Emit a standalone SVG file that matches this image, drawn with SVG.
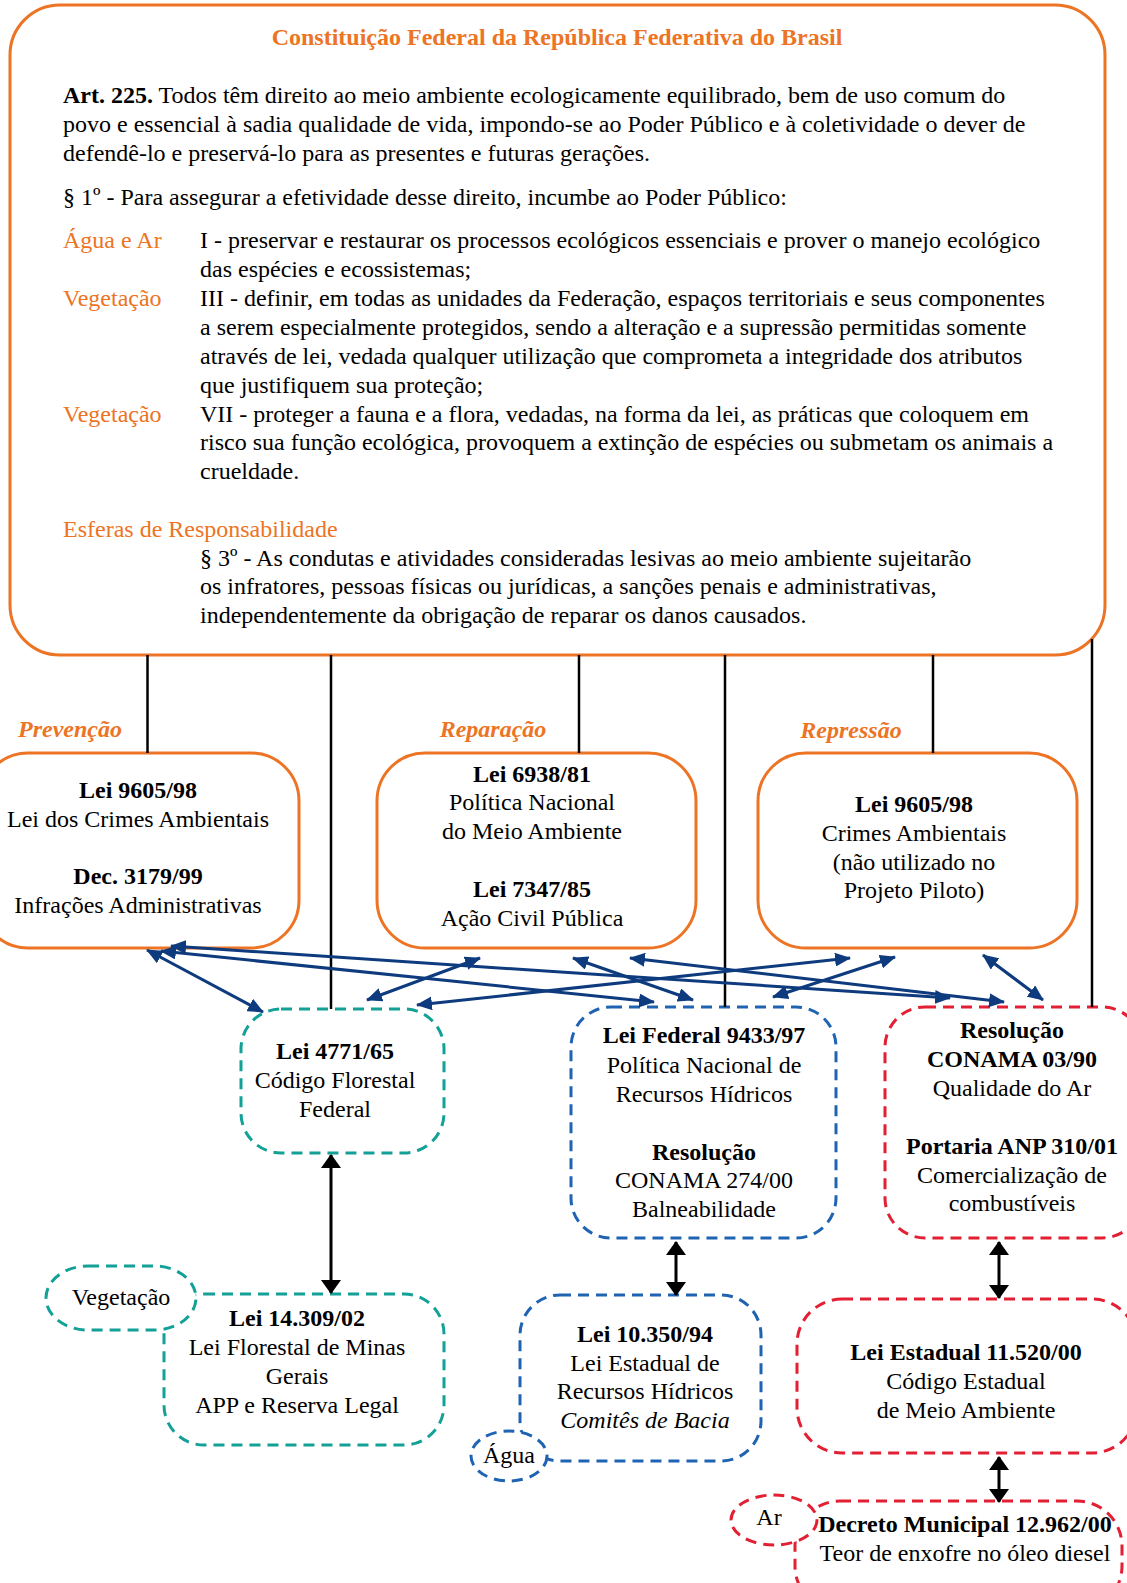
<svg xmlns="http://www.w3.org/2000/svg" width="1127" height="1583" viewBox="0 0 1127 1583">
<style>
text{font-family:"Liberation Serif","Times New Roman",serif;font-size:24px;fill:#000}
.b{font-weight:bold}
.i{font-style:italic}
.or{fill:#EC7424}
.c{text-anchor:middle}
.obox{fill:#fff;stroke:#EC7424;stroke-width:3}
.tbox{fill:#fff;stroke:#13A096;stroke-width:3;stroke-dasharray:11 7}
.bbox{fill:#fff;stroke:#1F63B3;stroke-width:3;stroke-dasharray:11 7}
.rbox{fill:#fff;stroke:#E21F33;stroke-width:3;stroke-dasharray:11 7}
.vl{stroke:#000;stroke-width:2.5;fill:none}
.ba{stroke:#0E3A7E;stroke-width:3;fill:none;marker-start:url(#ah);marker-end:url(#ah)}
.ka{stroke:#000;stroke-width:3;fill:none;marker-start:url(#kh);marker-end:url(#kh)}
</style>
<defs>
<marker id="ah" viewBox="0 0 16 14" refX="15" refY="7" markerWidth="16" markerHeight="14" markerUnits="userSpaceOnUse" orient="auto-start-reverse"><path d="M0,0 L16,7 L0,14 z" fill="#0E3A7E"/></marker>
<marker id="kh" viewBox="0 0 14 20" refX="13" refY="10" markerWidth="14" markerHeight="20" markerUnits="userSpaceOnUse" orient="auto-start-reverse"><path d="M0,0 L14,10 L0,20 z" fill="#000"/></marker>
</defs>
<rect width="1127" height="1583" fill="#fff"/>

<g id="constituicao">
<rect class="obox" x="10" y="5" width="1095" height="650" rx="50"/>
<text class="b or c" x="557" y="45">Constituição Federal da República Federativa do Brasil</text>
<text x="63" y="103"><tspan class="b">Art. 225.</tspan> Todos têm direito ao meio ambiente ecologicamente equilibrado, bem de uso comum do</text>
<text x="63" y="132">povo e essencial à sadia qualidade de vida, impondo-se ao Poder Público e à coletividade o dever de</text>
<text x="63" y="161">defendê-lo e preservá-lo para as presentes e futuras gerações.</text>
<text x="63" y="205">§ 1º - Para assegurar a efetividade desse direito, incumbe ao Poder Público:</text>
<text class="or" x="63" y="248">Água e Ar</text>
<text x="200" y="248">I - preservar e restaurar os processos ecológicos essenciais e prover o manejo ecológico</text>
<text x="200" y="277">das espécies e ecossistemas;</text>
<text class="or" x="63" y="306">Vegetação</text>
<text x="200" y="306">III - definir, em todas as unidades da Federação, espaços territoriais e seus componentes</text>
<text x="200" y="335">a serem especialmente protegidos, sendo a alteração e a supressão permitidas somente</text>
<text x="200" y="364">através de lei, vedada qualquer utilização que comprometa a integridade dos atributos</text>
<text x="200" y="393">que justifiquem sua proteção;</text>
<text class="or" x="63" y="422">Vegetação</text>
<text x="200" y="422">VII - proteger a fauna e a flora, vedadas, na forma da lei, as práticas que coloquem em</text>
<text x="200" y="450">risco sua função ecológica, provoquem a extinção de espécies ou submetam os animais a</text>
<text x="200" y="479">crueldade.</text>
<text class="or" x="63" y="537">Esferas de Responsabilidade</text>
<text x="200" y="566">§ 3º - As condutas e atividades consideradas lesivas ao meio ambiente sujeitarão</text>
<text x="200" y="594">os infratores, pessoas físicas ou jurídicas, a sanções penais e administrativas,</text>
<text x="200" y="623">independentemente da obrigação de reparar os danos causados.</text>
</g>

<g id="prevencao">
<text class="b i or c" x="70" y="737">Prevenção</text>
<rect class="obox" x="-20" y="753" width="319" height="195" rx="48"/>
<text class="b c" x="138" y="798">Lei 9605/98</text>
<text class="c" x="138" y="827">Lei dos Crimes Ambientais</text>
<text class="b c" x="138" y="884">Dec. 3179/99</text>
<text class="c" x="138" y="913">Infrações Administrativas</text>
</g>

<g id="reparacao">
<text class="b i or c" x="493" y="737">Reparação</text>
<rect class="obox" x="377" y="753" width="319" height="195" rx="48"/>
<text class="b c" x="532" y="782">Lei 6938/81</text>
<text class="c" x="532" y="810">Política Nacional</text>
<text class="c" x="532" y="839">do Meio Ambiente</text>
<text class="b c" x="532" y="897">Lei 7347/85</text>
<text class="c" x="532" y="926">Ação Civil Pública</text>
</g>

<g id="repressao">
<text class="b i or c" x="851" y="738">Repressão</text>
<rect class="obox" x="758" y="753" width="319" height="195" rx="48"/>
<text class="b c" x="914" y="812">Lei 9605/98</text>
<text class="c" x="914" y="841">Crimes Ambientais</text>
<text class="c" x="914" y="870">(não utilizado no</text>
<text class="c" x="914" y="898">Projeto Piloto)</text>
</g>

<g id="lei4771">
<rect class="tbox" x="241" y="1009" width="203" height="144" rx="40"/>
<text class="b c" x="335" y="1059">Lei 4771/65</text>
<text class="c" x="335" y="1088">Código Florestal</text>
<text class="c" x="335" y="1117">Federal</text>
</g>

<g id="lei14309">
<rect class="tbox" x="164" y="1294" width="280" height="151" rx="40"/>
<text class="b c" x="297" y="1326">Lei 14.309/02</text>
<text class="c" x="297" y="1355">Lei Florestal de Minas</text>
<text class="c" x="297" y="1384">Gerais</text>
<text class="c" x="297" y="1413">APP e Reserva Legal</text>
</g>

<g id="vegetacao">
<rect class="tbox" x="46" y="1266" width="150" height="64" rx="42" ry="32"/>
<text class="c" x="121" y="1305">Vegetação</text>
</g>

<g id="lei9433">
<rect class="bbox" x="571" y="1007" width="265" height="231" rx="40"/>
<text class="b c" x="704" y="1043">Lei Federal 9433/97</text>
<text class="c" x="704" y="1073">Política Nacional de</text>
<text class="c" x="704" y="1102">Recursos Hídricos</text>
<text class="b c" x="704" y="1160">Resolução</text>
<text class="c" x="704" y="1188">CONAMA 274/00</text>
<text class="c" x="704" y="1217">Balneabilidade</text>
</g>

<g id="lei10350">
<rect class="bbox" x="520" y="1295" width="241" height="166" rx="40"/>
<text class="b c" x="645" y="1342">Lei 10.350/94</text>
<text class="c" x="645" y="1371">Lei Estadual de</text>
<text class="c" x="645" y="1399">Recursos Hídricos</text>
<text class="i c" x="645" y="1428">Comitês de Bacia</text>
</g>

<g id="agua">
<ellipse class="bbox" cx="509" cy="1456" rx="38" ry="25"/>
<text class="c" x="509" y="1463">Água</text>
</g>

<g id="conama0390">
<rect class="rbox" x="885" y="1007" width="257" height="231" rx="40"/>
<text class="b c" x="1012" y="1038">Resolução</text>
<text class="b c" x="1012" y="1067">CONAMA 03/90</text>
<text class="c" x="1012" y="1096">Qualidade do Ar</text>
<text class="b c" x="1012" y="1154">Portaria ANP 310/01</text>
<text class="c" x="1012" y="1183">Comercialização de</text>
<text class="c" x="1012" y="1211">combustíveis</text>
</g>

<g id="lei11520">
<rect class="rbox" x="797" y="1299" width="340" height="154" rx="45"/>
<text class="b c" x="966" y="1360">Lei Estadual 11.520/00</text>
<text class="c" x="966" y="1389">Código Estadual</text>
<text class="c" x="966" y="1418">de Meio Ambiente</text>
</g>

<g id="decreto">
<rect class="rbox" x="795" y="1501" width="327" height="110" rx="45"/>
<text class="b c" x="965" y="1532">Decreto Municipal 12.962/00</text>
<text class="c" x="965" y="1561">Teor de enxofre no óleo diesel</text>
</g>

<g id="ar">
<ellipse class="rbox" cx="774" cy="1520" rx="43" ry="25"/>
<text class="c" x="769" y="1525">Ar</text>
</g>

<g id="connectors">
<line class="vl" x1="147.5" y1="655" x2="147.5" y2="753"/>
<line class="vl" x1="331" y1="655" x2="331" y2="1009"/>
<line class="vl" x1="579" y1="655" x2="579" y2="753"/>
<line class="vl" x1="725" y1="655" x2="725" y2="1007"/>
<line class="vl" x1="933" y1="655" x2="933" y2="753"/>
<line class="vl" x1="1092" y1="639" x2="1092" y2="1007"/>

<line class="ba" x1="147" y1="950" x2="263" y2="1012"/>
<line class="ba" x1="161" y1="951" x2="654" y2="1002"/>
<line class="ba" x1="171" y1="946" x2="950" y2="998"/>
<line class="ba" x1="480" y1="958" x2="367" y2="1000"/>
<line class="ba" x1="573" y1="958" x2="693" y2="1000"/>
<line class="ba" x1="630" y1="958" x2="1004" y2="1002"/>
<line class="ba" x1="850" y1="958" x2="417" y2="1005"/>
<line class="ba" x1="895" y1="957" x2="773" y2="997"/>
<line class="ba" x1="983" y1="955" x2="1043" y2="1000"/>

<line class="ka" x1="331" y1="1155" x2="331" y2="1293"/>
<line class="ka" x1="676" y1="1242" x2="676" y2="1295"/>
<line class="ka" x1="999" y1="1242" x2="999" y2="1298"/>
<line class="ka" x1="999" y1="1457" x2="999" y2="1502"/>
</g>
</svg>
